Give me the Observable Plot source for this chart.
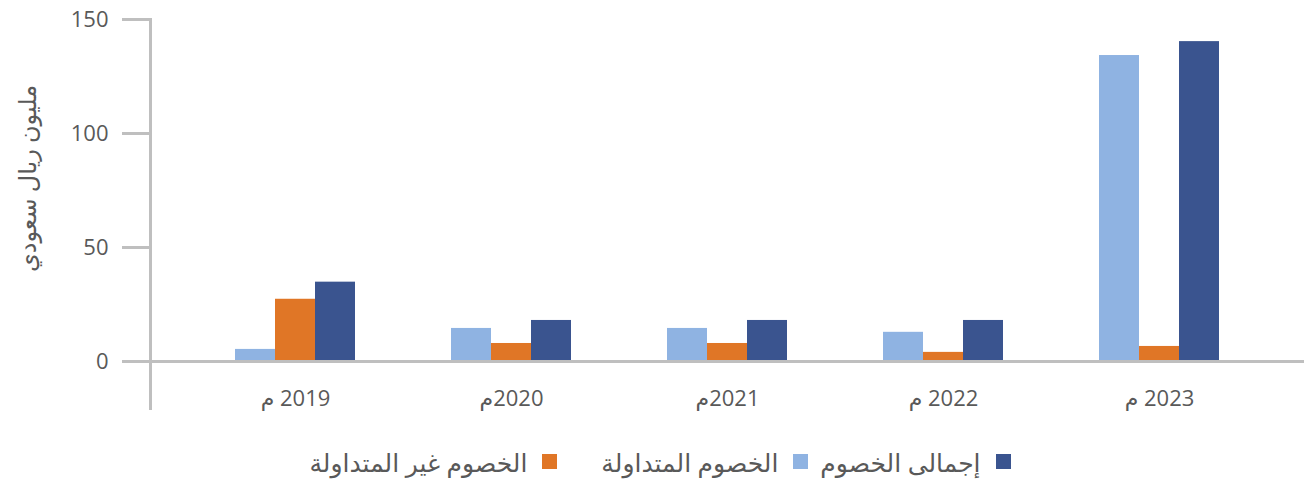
<!DOCTYPE html>
<html><head><meta charset="utf-8">
<script src="https://cdn.jsdelivr.net/npm/d3@7"></script>
<script src="https://cdn.jsdelivr.net/npm/@observablehq/plot@0.6"></script>
<style>
body{margin:0;background:#fff;font-family:"Open Sans","DejaVu Sans",sans-serif;}
#chart svg{display:block;font-family:"Open Sans","DejaVu Sans",sans-serif;}
#legend{display:flex;direction:rtl;justify-content:center;align-items:center;height:43px;font-size:25px;color:#595959;padding-left:16px;box-sizing:border-box;}
#legend .item{display:flex;align-items:center;}
#legend .sw{width:15px;height:15px;display:inline-block;margin-left:15px;}
</style></head><body>
<div id="chart"></div>
<div id="legend"></div>
<script>
const years = ["2019", "2020", "2021", "2022", "2023"];
const yearLabels = ["2019 م", "2020م", "2021م", "2022 م", "2023 م"];
const seriesNames = ["الخصوم المتداولة", "الخصوم غير المتداولة", "إجمالى الخصوم"];
const seriesColors = ["#8FB3E2", "#E07626", "#3A548F"];
const currentLiabilities = [5.3, 14.5, 14.5, 12.8, 134.2];
const nonCurrentLiabilities = [27.3, 7.9, 7.9, 4.0, 6.6];
const totalLiabilities = [34.8, 18.0, 18.0, 18.0, 140.3];
const yTicks = [0, 50, 100, 150];
const yTitle = "مليون ريال سعودي";
const legendOrder = [2, 0, 1];

const seriesValues = [currentLiabilities, nonCurrentLiabilities, totalLiabilities];
const data = years.flatMap((y, i) => seriesNames.map((s, k) => ({year: y, series: s, value: seriesValues[k][i]})));

// each year band holds three equal sub-bars: position k of 3
const slot = 40;
const barMarks = seriesNames.map((s, k) =>
  Plot.barY(data.filter(d => d.series === s), {
    x: "year", y: "value", fill: "series",
    insetLeft: k * slot, insetRight: (seriesNames.length - 1 - k) * slot
  }));

const grey = "#BFBFBF", textGrey = "#595959";
const chart = Plot.plot({
  width: 1304, height: 440,
  marginLeft: 150, marginRight: 0, marginTop: 19, marginBottom: 79,
  x: {domain: years, paddingInner: 0.446, paddingOuter: 0.386, axis: null},
  y: {domain: [0, 150], axis: null},
  color: {domain: seriesNames, range: seriesColors},
  marks: [
    ...barMarks,
    Plot.ruleY([0], {stroke: grey, strokeWidth: 3}),
    Plot.frame({anchor: "left", stroke: grey, strokeWidth: 3, insetBottom: -47}),
    Plot.axisY(yTicks, {tickSize: 28, text: null, color: grey, strokeWidth: 3, label: null}),
    Plot.axisY(yTicks, {tickSize: 0, tickPadding: 42, color: textGrey, fontSize: 22, label: null}),
    Plot.text([yTitle], {frameAnchor: "left", rotate: -90, dx: -122, dy: -12, fontSize: 24, fill: textGrey, textAnchor: "middle"}),
    Plot.axisX({anchor: "bottom", tickSize: 0, tickPadding: 29, fontSize: 22, color: textGrey, label: null,
      tickFormat: d => "\u202B" + yearLabels[years.indexOf(d)] + "\u202C"})
  ]
});
document.getElementById("chart").appendChild(chart);

const legend = d3.select("#legend");
legendOrder.forEach((k, j) => {
  const it = legend.append("div").attr("class", "item")
    .style("margin-left", j === 0 ? "12px" : j === 1 ? "44px" : "0px");
  it.append("span").attr("class", "sw").style("background", seriesColors[k]);
  it.append("span").text(seriesNames[k]);
});
</script>
</body></html>
